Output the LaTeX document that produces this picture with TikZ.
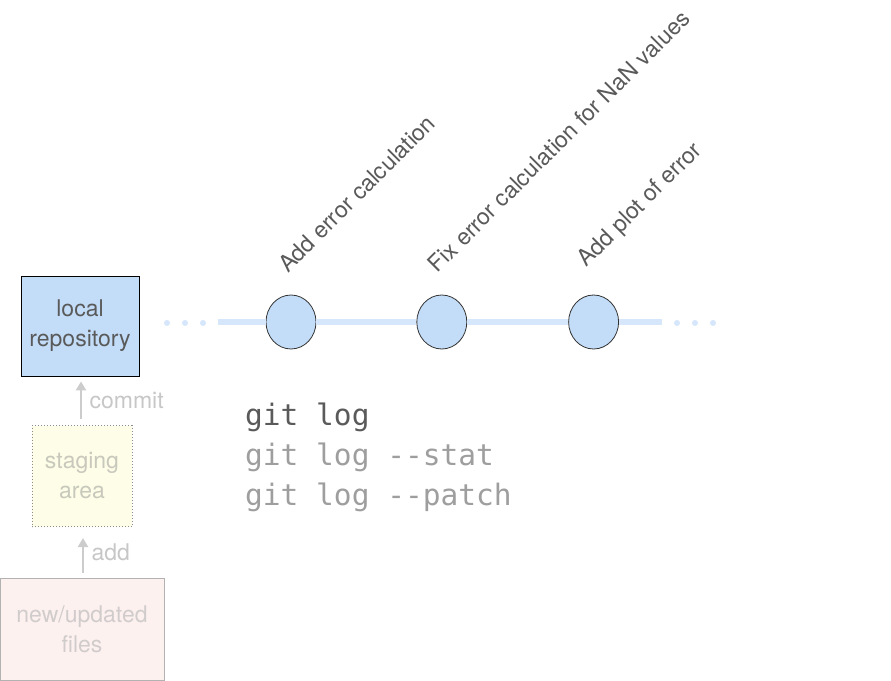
\documentclass[tikz,border=0pt]{standalone}
\usepackage{fontspec}
\setmainfont{TeX Gyre Heros}
\setmonofont{DejaVu Sans Mono}
\usepackage{tikz}
\usetikzlibrary{positioning, calc, arrows.meta, shapes.geometric}

\definecolor{repoblue}{HTML}{C3DDF9}
\definecolor{histblue}{HTML}{D6E6FB}
\definecolor{stagefill}{HTML}{FEFEE8}
\definecolor{filesfill}{HTML}{FDF1F0}
\definecolor{darktext}{HTML}{5A5A5A}
\definecolor{fadetext}{HTML}{C8C8BC}

\begin{document}
\begin{tikzpicture}[x=1pt, y=-1pt,
    area/.style={rectangle, align=center, inner sep=0pt,
      font=\fontsize{23}{30}\selectfont},
    commitnode/.style={ellipse, draw=black!80, fill=repoblue, line width=0.8pt,
      minimum width=50pt, minimum height=54pt, inner sep=0pt},
    msg/.style={rotate=45, anchor=base west, inner sep=0pt, text=darktext,
      font=\fontsize{23}{27}\selectfont},
    uparrow/.style={-{Triangle[width=10pt,length=9pt]}, line width=2.5pt, draw=black!20},
    cmd/.style={anchor=base west, inner sep=0pt, font=\ttfamily\fontsize{29.5}{40}\selectfont}]
  \useasboundingbox (0,0) rectangle (891,680);

  % areas
  \node (repo) [area, draw=black, line width=0.8pt, fill=repoblue, text=darktext,
    minimum width=118pt, minimum height=100pt] at (80,326) {local\\repository};
  \node (stage) [area, draw=black!45, dotted, line width=1pt, fill=stagefill,
    text=fadetext, minimum width=100pt, minimum height=101pt] at (82,476) {staging\\area};
  \node (files) [area, draw=black!30, line width=0.8pt, fill=filesfill,
    text=red!10!black!20, minimum width=164pt, minimum height=102pt] at (82,629) {new/updated\\files};

  \draw[uparrow, shorten <=6pt, shorten >=5pt] (stage.north -| 81,0) -- (repo.south -| 81,0)
    node [midway, right=4pt, text=black!22, font=\fontsize{23}{27}\selectfont] {commit};
  \draw[uparrow, shorten <=5pt, shorten >=11pt] (files.north -| 83,0) -- (stage.south -| 83,0)
    node [midway, right=4pt, text=black!22, font=\fontsize{23}{27}\selectfont] {add};

  % history
  \coordinate (first) at (218,322);
  \node (c1) [commitnode] at (291,322) {};
  \node (c2) [commitnode, right=100pt of c1] {};
  \node (c3) [commitnode, right=101pt of c2] {};
  \coordinate (last) at (662,322);
  \draw[histblue, line width=6pt] (first) -- (c1) (c1) -- (c2) (c2) -- (c3) (c3) -- (last);
  \foreach \x in {167,185,203,677,695,713}
    \fill[histblue] (\x,323) circle (3pt);

  \node[msg] at ($(c1)+(-3,-48)$) {Add error calculation};
  \node[msg] at ($(c2)+(-4,-48)$) {Fix error calculation for NaN values};
  \node[msg] at ($(c3)+(-7,-54)$) {Add plot of error};

  % commands
  \node (log) [cmd, text=darktext] at (245,425) {git log};
  \node (stat) [cmd, text=black!38, below=40pt of log.base west, anchor=base west] {git log --stat};
  \node (patch) [cmd, text=black!38, below=40pt of stat.base west, anchor=base west] {git log --patch};
\end{tikzpicture}
\end{document}
